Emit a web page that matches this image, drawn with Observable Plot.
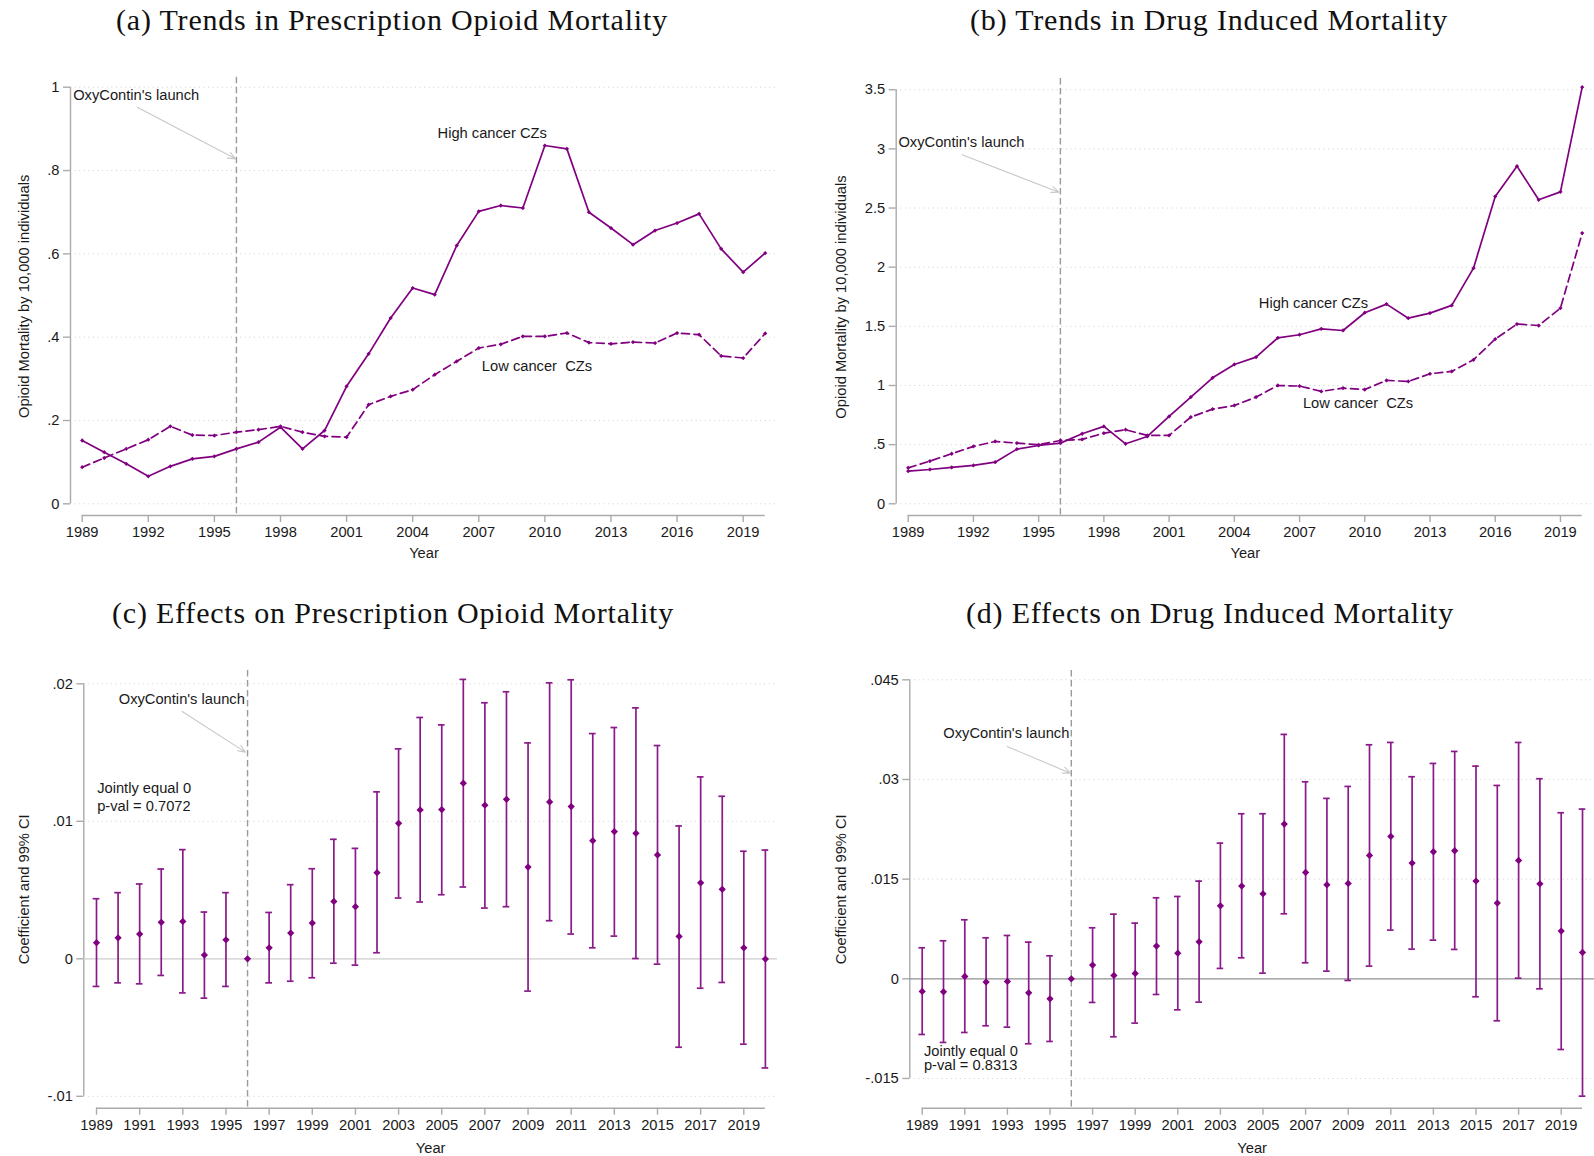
<!DOCTYPE html>
<html>
<head>
<meta charset="utf-8">
<script src="https://cdn.jsdelivr.net/npm/d3@7"></script>
<script src="https://cdn.jsdelivr.net/npm/@observablehq/plot@0.6"></script>
<style>
  html, body { margin: 0; padding: 0; background: #fff; }
  #page { position: relative; width: 1594px; height: 1156px; overflow: hidden; background: #fff; }
  .panel { position: absolute; width: 797px; height: 578px; }
  .title {
    position: absolute; white-space: nowrap; transform: translateX(-50%);
    font-family: "Liberation Serif", "DejaVu Serif", serif; font-size: 30px;
    letter-spacing: 0.8px; line-height: 36px; color: #111;
  }
</style>
</head>
<body>
<div id="page">
  <div class="title" style="left:392px; top:2px;">(a) Trends in Prescription Opioid Mortality</div>
  <div class="title" style="left:1209px; top:2px;">(b) Trends in Drug Induced Mortality</div>
  <div class="title" style="left:393px; top:595px;">(c) Effects on Prescription Opioid Mortality</div>
  <div class="title" style="left:1210px; top:595px;">(d) Effects on Drug Induced Mortality</div>
  <div class="panel" id="pa" style="left:0; top:0;"></div>
  <div class="panel" id="pb" style="left:797px; top:0;"></div>
  <div class="panel" id="pc" style="left:0; top:578px;"></div>
  <div class="panel" id="pd" style="left:797px; top:578px;"></div>
</div>
<script>
// ---- data -------------------------------------------------------------
const years = [1989, 1990, 1991, 1992, 1993, 1994, 1995, 1996, 1997, 1998, 1999,
  2000, 2001, 2002, 2003, 2004, 2005, 2006, 2007, 2008, 2009, 2010, 2011, 2012,
  2013, 2014, 2015, 2016, 2017, 2018, 2019, 2020];

// Prescription opioid mortality per 10,000 individuals
const rxHigh = [0.152, 0.124, 0.096, 0.066, 0.090, 0.108, 0.114, 0.132, 0.148, 0.184, 0.132,
  0.176, 0.282, 0.360, 0.446, 0.518, 0.502, 0.620, 0.702, 0.716, 0.710, 0.860, 0.852, 0.700,
  0.662, 0.622, 0.656, 0.674, 0.696, 0.612, 0.556, 0.602];
const rxLow = [0.088, 0.110, 0.132, 0.154, 0.186, 0.165, 0.164, 0.172, 0.178, 0.186, 0.172,
  0.162, 0.160, 0.238, 0.258, 0.274, 0.310, 0.342, 0.374, 0.383, 0.402, 0.402, 0.410, 0.387,
  0.384, 0.388, 0.386, 0.410, 0.406, 0.355, 0.350, 0.409];

// Drug induced mortality per 10,000 individuals
const drugHigh = [0.276, 0.290, 0.307, 0.324, 0.352, 0.462, 0.493, 0.513, 0.592, 0.654, 0.507,
  0.569, 0.738, 0.902, 1.065, 1.178, 1.240, 1.403, 1.429, 1.479, 1.465, 1.615, 1.688, 1.569,
  1.612, 1.677, 1.992, 2.598, 2.854, 2.570, 2.637, 3.522];
const drugLow = [0.304, 0.361, 0.423, 0.485, 0.527, 0.513, 0.499, 0.535, 0.544, 0.597, 0.626,
  0.578, 0.578, 0.733, 0.800, 0.831, 0.902, 1.000, 0.995, 0.950, 0.978, 0.966, 1.043, 1.034,
  1.099, 1.119, 1.217, 1.392, 1.519, 1.507, 1.654, 2.288];

// Event-study coefficients and 99% confidence bounds (1996 is the reference year)
const rxCoef = [0.00117, 0.00153, 0.00180, 0.00265, 0.00272, 0.00027, 0.00138, 0, 0.00080,
  0.00187, 0.00260, 0.00417, 0.00379, 0.00626, 0.00985, 0.01083, 0.01085, 0.01277, 0.01117,
  0.01160, 0.00667, 0.01141, 0.01107, 0.00859, 0.00925, 0.00913, 0.00755, 0.00163, 0.00553,
  0.00505, 0.00080, -0.00002];
const rxLo = [-0.00201, -0.00175, -0.00182, -0.00121, -0.00248, -0.00286, -0.00201, null,
  -0.00175, -0.00163, -0.00138, -0.00032, -0.00046, 0.00044, 0.00442, 0.00413, 0.00466,
  0.00522, 0.00369, 0.00379, -0.00235, 0.00277, 0.00180, 0.00080, 0.00165, 0.00002, -0.00039,
  -0.00643, -0.00214, -0.00172, -0.00621, -0.00794];
const rxHi = [0.00437, 0.00481, 0.00544, 0.00653, 0.00794, 0.00340, 0.00481, null, 0.00337,
  0.00539, 0.00655, 0.00869, 0.00803, 0.01214, 0.01527, 0.01755, 0.01701, 0.02032, 0.01862,
  0.01942, 0.01570, 0.02007, 0.02029, 0.01638, 0.01682, 0.01825, 0.01551, 0.00966, 0.01323,
  0.01182, 0.00782, 0.00791];

const drugCoef = [-0.00191, -0.00196, 0.00035, -0.00050, -0.00040, -0.00211, -0.00301, 0,
  0.00206, 0.00050, 0.00080, 0.00492, 0.00386, 0.00557, 0.01099, 0.01395, 0.01279, 0.02328,
  0.01601, 0.01415, 0.01435, 0.01857, 0.02142, 0.01741, 0.01912, 0.01927, 0.01470, 0.01139,
  0.01781, 0.01430, 0.00718, 0.00396];
const drugLo = [-0.00838, -0.00958, -0.00808, -0.00707, -0.00728, -0.00978, -0.00943, null,
  -0.00356, -0.00873, -0.00667, -0.00236, -0.00467, -0.00351, 0.00156, 0.00316, 0.00085,
  0.00978, 0.00241, 0.00115, -0.00025, 0.00191, 0.00733, 0.00447, 0.00582, 0.00442, -0.00271,
  -0.00632, 0.00010, -0.00151, -0.01064, -0.01766];
const drugHi = [0.00467, 0.00572, 0.00888, 0.00617, 0.00652, 0.00552, 0.00346, null, 0.00768,
  0.00973, 0.00838, 0.01219, 0.01239, 0.01470, 0.02042, 0.02484, 0.02484, 0.03678, 0.02965,
  0.02715, 0.02895, 0.03522, 0.03557, 0.03041, 0.03241, 0.03422, 0.03201, 0.02910, 0.03557,
  0.03011, 0.02499, 0.02554];

// Tick values
const trendYearTicks = [1989, 1992, 1995, 1998, 2001, 2004, 2007, 2010, 2013, 2016, 2019];
const effectYearTicks = [1989, 1991, 1993, 1995, 1997, 1999, 2001, 2003, 2005, 2007, 2009,
  2011, 2013, 2015, 2017, 2019];
const rxTrendTicks = [0, 0.2, 0.4, 0.6, 0.8, 1];
const drugTrendTicks = [0, 0.5, 1, 1.5, 2, 2.5, 3, 3.5];
const rxEffectTicks = [-0.01, 0, 0.01, 0.02];
const drugEffectTicks = [-0.015, 0, 0.015, 0.03, 0.045];

const launchYear = 1996;

// ---- styling ------------------------------------------------------------
const purple = "#800080";
const ciPurple = "#8a1a8a";
const axisGray = "#ababab";
const gridGray = "#cfcfcf";
const textColor = "#1a1a1a";
const sans = "'Liberation Sans', Arial, sans-serif";
const fs = 14.7;

// Stata-style tick labels: ".2", "-.015", "1.5"
const fmt = v => v === 0 ? "0" : String(+v.toFixed(4)).replace(/^(-?)0\./, "$1.");

// A square diamond (d3's built-in one is taller than wide)
const diamond = {
  draw(ctx, size) {
    const s = Math.sqrt(size / 2);
    ctx.moveTo(0, -s); ctx.lineTo(s, 0); ctx.lineTo(0, s); ctx.lineTo(-s, 0); ctx.closePath();
  }
};

function frameMarks(cfg, gridTicks) {
  return [
    Plot.ruleY(gridTicks, {stroke: gridGray, strokeWidth: 1, strokeDasharray: "1,3.6"}),
    Plot.ruleX([cfg.xDomain[0]], {y1: cfg.yTicks[0], y2: cfg.yTicks[cfg.yTicks.length - 1],
      stroke: axisGray, strokeWidth: 1.4}),
    Plot.ruleY([cfg.yDomain[0]], {x1: years[0], x2: years[years.length - 1],
      stroke: axisGray, strokeWidth: 1.4}),
    Plot.axisY({ticks: cfg.yTicks, anchor: "left", tickSize: 7, tickPadding: 4, tickFormat: fmt,
      stroke: axisGray, strokeWidth: 1.4, fill: textColor, fontSize: fs, label: null}),
    Plot.axisX({ticks: cfg.xTicks, anchor: "bottom", tickSize: 7, tickPadding: 4,
      tickFormat: d => String(d), stroke: axisGray, strokeWidth: 1.4, fill: textColor,
      fontSize: fs, label: null}),
    Plot.text([cfg.yLabel], {text: d => d, frameAnchor: "left", dx: cfg.yLabelDx, rotate: -90,
      textAnchor: "middle", lineAnchor: "middle", fill: textColor, fontSize: fs}),
    Plot.text(["Year"], {text: d => d, frameAnchor: "bottom", dy: cfg.xLabelDy,
      textAnchor: "middle", lineAnchor: "middle", fill: textColor, fontSize: fs}),
    Plot.ruleX([launchYear], {stroke: "#9a9a9a", strokeWidth: 1.4, strokeDasharray: "6.5,3.5"}),
    Plot.arrow([cfg.launch], {x1: "x1", y1: "y1", x2: "x2", y2: "y2", stroke: "#c8c8c8",
      strokeWidth: 1.1, headLength: 11, headAngle: 45}),
    Plot.text([cfg.launch], {x: "tx", y: "ty", text: () => "OxyContin's launch",
      textAnchor: "start", fill: textColor, fontSize: fs})
  ];
}

function plotOptions(cfg, marks) {
  return {
    width: 797, height: 578,
    marginLeft: cfg.margins[0], marginRight: cfg.margins[1],
    marginTop: cfg.margins[2], marginBottom: cfg.margins[3],
    x: {domain: cfg.xDomain},
    y: {domain: cfg.yDomain},
    style: {fontFamily: sans, fontSize: fs + "px", background: "transparent", overflow: "visible"},
    marks
  };
}

function trendPanel(cfg) {
  const rows = years.map((year, i) => ({year, high: cfg.high[i], low: cfg.low[i]}));
  return Plot.plot(plotOptions(cfg, [
    ...frameMarks(cfg, cfg.yTicks),
    Plot.line(rows, {x: "year", y: "high", stroke: purple, strokeWidth: 1.7}),
    Plot.line(rows, {x: "year", y: "low", stroke: purple, strokeWidth: 1.7, strokeDasharray: "8,4.5"}),
    Plot.dot(rows, {x: "year", y: "high", symbol: diamond, r: 1.7, fill: purple}),
    Plot.dot(rows, {x: "year", y: "low", symbol: diamond, r: 1.7, fill: purple}),
    Plot.text(cfg.seriesLabels, {x: "x", y: "y", text: "text", fill: textColor, fontSize: fs})
  ]));
}

function effectPanel(cfg) {
  const rows = years.map((year, i) => ({year, coef: cfg.coef[i], lo: cfg.lo[i], hi: cfg.hi[i]}));
  const ci = rows.filter(d => d.lo != null);
  const cap = 0.155; // half-width of the whisker caps, in years
  return Plot.plot(plotOptions(cfg, [
    ...frameMarks(cfg, cfg.yTicks.filter(t => t !== 0)),
    Plot.ruleY([0], {stroke: cfg.zeroColor, strokeWidth: 1.3}),
    Plot.text([cfg.joint], {x: "x", y: "y", text: "text", textAnchor: "start",
      lineHeight: cfg.joint.lineHeight, fill: textColor, fontSize: fs}),
    Plot.ruleX(ci, {x: "year", y1: "lo", y2: "hi", stroke: ciPurple, strokeWidth: 1.7}),
    Plot.ruleY(ci, {y: "lo", x1: d => d.year - cap, x2: d => d.year + cap, stroke: ciPurple, strokeWidth: 1.7}),
    Plot.ruleY(ci, {y: "hi", x1: d => d.year - cap, x2: d => d.year + cap, stroke: ciPurple, strokeWidth: 1.7}),
    Plot.dot(rows, {x: "year", y: "coef", symbol: diamond, r: 2.9, fill: purple})
  ]));
}

// ---- panels ---------------------------------------------------------------
const yLabelTrend = "Opioid Mortality by 10,000 individuals";
const yLabelEffect = "Coefficient and 99% CI";

document.getElementById("pa").append(trendPanel({
  high: rxHigh, low: rxLow, yTicks: rxTrendTicks, xTicks: trendYearTicks,
  xDomain: [1988.469, 2020.558], yDomain: [-0.028, 1.024], margins: [70, 20, 76.7, 63],
  yLabel: yLabelTrend, yLabelDx: -46.7, xLabelDy: 38,
  launch: {tx: 1988.59, ty: 0.98, x1: 1991.5, y1: 0.952, x2: 1995.96, y2: 0.828},
  seriesLabels: [
    {text: "High cancer CZs", x: 2007.61, y: 0.889},
    {text: "Low cancer\u00a0 CZs", x: 2009.64, y: 0.3295}
  ]
}));

document.getElementById("pb").append(trendPanel({
  high: drugHigh, low: drugLow, yTicks: drugTrendTicks, xTicks: trendYearTicks,
  xDomain: [1988.448, 2020.566], yDomain: [-0.099, 3.595], margins: [98.7, 0, 78, 63],
  yLabel: yLabelTrend, yLabelDx: -55, xLabelDy: 38,
  launch: {tx: 1988.55, ty: 3.057, x1: 1991.48, y1: 2.95, x2: 1995.93, y2: 2.634},
  seriesLabels: [
    {text: "High cancer CZs", x: 2007.64, y: 1.696},
    {text: "Low cancer\u00a0 CZs", x: 2009.69, y: 0.85}
  ]
}));

document.getElementById("pc").append(effectPanel({
  coef: rxCoef, lo: rxLo, hi: rxHi, yTicks: rxEffectTicks, xTicks: effectYearTicks,
  xDomain: [1988.411, 2020.561], yDomain: [-0.010865, 0.020967], margins: [83.3, 20, 92, 48.3],
  yLabel: yLabelEffect, yLabelDx: -60, xLabelDy: 40.3, zeroColor: "#cccccc",
  launch: {tx: 1990.03, ty: 0.01891, x1: 1992.97, y1: 0.01799, x2: 1995.9, y2: 0.01503},
  joint: {text: "Jointly equal 0\np-val = 0.7072", x: 1989.03, y: 0.01182, lineHeight: 1.24}
}));

document.getElementById("pd").append(effectPanel({
  coef: drugCoef, lo: drugLo, hi: drugHi, yTicks: drugEffectTicks, xTicks: effectYearTicks,
  xDomain: [1988.418, 2020.563], yDomain: [-0.019476, 0.0464], margins: [112.3, 0, 92, 48.3],
  yLabel: yLabelEffect, yLabelDx: -68.6, xLabelDy: 40.3, zeroColor: "#8f8f8f",
  launch: {tx: 1989.99, ty: 0.03697, x1: 1992.99, y1: 0.03496, x2: 1995.96, y2: 0.03095},
  joint: {text: "Jointly equal 0\np-val = 0.8313", x: 1989.08, y: -0.01205, lineHeight: 0.9}
}));
</script>
</body>
</html>
